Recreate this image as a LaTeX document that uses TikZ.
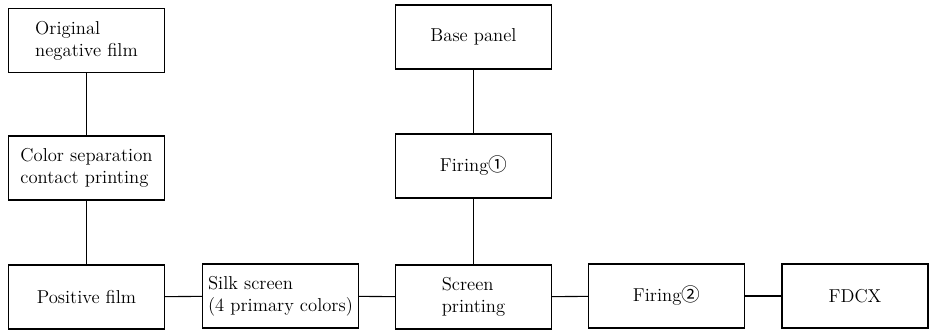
\documentclass[tikz,border=0pt]{standalone}
\usepackage{fontspec}
\newfontfamily\circfont{Noto Sans CJK JP}

\tikzset{every picture/.style={line width=0.75pt}}
\tikzset{
  procbox/.style={draw, line width=1pt, minimum width=117pt, minimum height=48pt,
    inner sep=0pt, align=left, font=\fontsize{14}{16.5}\selectfont},
  link/.style={line width=0.8pt}
}

\begin{document}
\begin{tikzpicture}[x=0.75pt,y=0.75pt,yscale=-1,xscale=1]
\useasboundingbox (0,0) rectangle (929,333);

% Text Node
\node (orig) at (86.5,40.5) [procbox] {Original\\negative film};
% Text Node
\node (sep) at (86.5,168) [procbox] {Color separation\\contact printing};
% Text Node
\node (posfilm) at (86.5,297) [procbox] {Positive film};
% Text Node
\node (silk) at (280.5,296) [procbox] {Silk screen\\(4 primary colors)};
% Text Node
\node (scrprint) at (473.5,297) [procbox] {Screen\\printing};
% Text Node
\node (base) at (473.5,37) [procbox] {Base panel};
% Text Node
\node (fire1) at (473.5,166) [procbox] {Firing{\circfont ①}};
% Text Node
\node (fire2) at (666.5,296) [procbox] {Firing{\circfont ②}};
% Text Node
\node (fdcx) at (855,296) [procbox, minimum width=109.5pt] {FDCX};

%Straight Lines
\draw [link] (orig) -- (sep) ;
\draw [link] (sep) -- (posfilm) ;
\draw [link] (posfilm) -- (silk) ;
\draw [link] (silk) -- (scrprint) ;
\draw [link] (base) -- (fire1) ;
\draw [link] (fire1) -- (scrprint) ;
\draw [link] (scrprint) -- (fire2) ;
\draw [link] (fire2) -- (fdcx) ;

\end{tikzpicture}
\end{document}
